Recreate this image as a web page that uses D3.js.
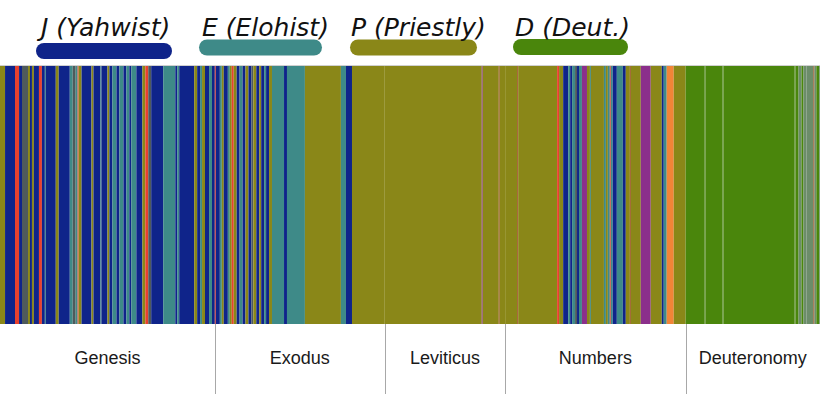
<!DOCTYPE html>
<html><head><meta charset="utf-8">
<script src="https://cdn.jsdelivr.net/npm/d3@7"></script>
<style>html,body{margin:0;padding:0;background:#fff;}svg{display:block;}</style>
</head><body>
<svg id="chart" width="820" height="394"></svg>
<script>
// ---- DATA ----
const books = ["Genesis", "Exodus", "Leviticus", "Numbers", "Deuteronomy"];
const bookVerses = [1533, 1213, 859, 1288, 959];

const sourceCodes = ["J", "E", "P", "D", "R", "O", "X", "G", "B", "K", "L"];
const sourceColors = ["#0f248a", "#3e8a88", "#8a8718", "#4a860c", "#e8412e", "#f28437", "#8b2f8b", "#4e5a5c", "#9a4a1a", "#6c8c6a", "#5c9030"];

const legendLabels = ["J (Yahwist)", "E (Elohist)", "P (Priestly)", "D (Deut.)"];
const legendSources = ["J", "E", "P", "D"];

// segments per book: [source, verses]
const genesisSegs = [["P",36],["J",71],["R",29],["J",21],["G",43],["P",14],["J",14],["P",14],["J",36],["R",21],["J",21],["E",7],["J",71],["P",21],["J",79],["E",21],["G",21],["E",14],["R",7],["P",21],["J",71],["P",14],["J",50],["E",7],["J",43],["P",14],["J",21],["E",29],["J",21],["E",29],["J",21],["E",21],["J",14],["E",36],["J",43],["P",21],["R",21],["G",21],["J",86],["E",86],["J",14],["E",14],["J",107],["P",21],["J",21],["E",14],["P",21],["J",29],["E",21],["J",20]];
const exodusSegs = [["R",7],["J",29],["E",14],["P",14],["J",29],["E",14],["P",14],["R",14],["P",21],["J",21],["E",21],["J",21],["P",21],["J",21],["G",14],["P",21],["J",21],["P",14],["J",21],["E",14],["J",21],["P",21],["E",86],["J",21],["E",128],["P",257],["E",36],["J",43],["P",234]];
const leviticusSegs = [["P",692],["X",7],["P",114],["B",7],["P",39]];
const numbersSegs = [["P",86],["B",7],["P",278],["R",14],["P",29],["J",36],["E",14],["J",14],["E",21],["G",14],["J",14],["E",21],["X",36],["P",21],["E",7],["P",93],["E",14],["P",14],["E",14],["R",7],["E",14],["J",29],["E",43],["J",21],["P",29],["B",7],["P",71],["X",71],["P",79],["J",14],["E",21],["O",50],["P",85]];
const deuteronomySegs = [["D",136],["L",7],["D",121],["L",7],["D",507],["L",7],["D",21],["K",21],["D",14],["K",21],["K",50],["B",7],["K",14],["D",21],["K",5]];

const bookSegs = [genesisSegs, exodusSegs, leviticusSegs, numbersSegs, deuteronomySegs];

// ---- LAYOUT ----
const W = 820, H = 394;
const stripTop = 65, stripBottom = 324;
const svg = d3.select("#chart");

const color = d3.scaleOrdinal().domain(sourceCodes).range(sourceColors);
const total = d3.sum(bookVerses);
const x = d3.scaleLinear().domain([0, total]).range([0, W]);

const bookStart = [];
let acc = 0;
bookVerses.forEach(v => { bookStart.push(acc); acc += v; });
const segs = [];
bookSegs.forEach((list, bi) => {
  let s = bookStart[bi];
  const end = bookStart[bi] + bookVerses[bi];
  list.forEach((d, i) => {
    const e = (i === list.length - 1) ? end : Math.min(end, s + d[1]);
    segs.push({src: d[0], start: s, end: e});
    s = e;
  });
});

svg.append("g").selectAll("rect").data(segs).join("rect")
  .attr("x", d => x(d.start))
  .attr("y", stripTop)
  .attr("width", d => Math.max(0, x(d.end) - x(d.start)))
  .attr("height", stripBottom - stripTop)
  .attr("fill", d => color(d.src));

svg.append("line").attr("x1", 0).attr("x2", W).attr("y1", stripTop + 0.5).attr("y2", stripTop + 0.5)
  .attr("stroke", "#d0d0d0").attr("stroke-width", 1);

const bookEnds = bookStart.slice(1);
svg.append("g").selectAll("line").data(bookEnds).join("line")
  .attr("x1", d => Math.round(x(d)) + 0.5).attr("x2", d => Math.round(x(d)) + 0.5)
  .attr("y1", stripBottom).attr("y2", H)
  .attr("stroke", "#a8a8a8").attr("stroke-width", 1);

svg.append("g").selectAll("text").data(books).join("text")
  .attr("x", (d, i) => x(bookStart[i] + bookVerses[i] / 2))
  .attr("y", 364)
  .attr("text-anchor", "middle")
  .attr("font-family", "'Liberation Sans', Arial, sans-serif")
  .attr("font-size", 18)
  .attr("fill", "#1a1a1a")
  .text(d => d);

const legendTextX = [41, 202, 351, 515];
const legendLine = [[44, 164, 51], [207, 314, 47.5], [358, 469, 47.5], [521, 620, 47]];
const lg = svg.append("g");
legendSources.forEach((s, i) => {
  lg.append("line")
    .attr("x1", legendLine[i][0]).attr("x2", legendLine[i][1])
    .attr("y1", legendLine[i][2]).attr("y2", legendLine[i][2])
    .attr("stroke", color(s)).attr("stroke-width", 16).attr("stroke-linecap", "round");
  lg.append("text")
    .attr("x", legendTextX[i]).attr("y", 36)
    .attr("font-family", "'DejaVu Sans', sans-serif")
    .attr("font-style", "italic")
    .attr("font-size", 25)
    .attr("fill", "#111")
    .text(legendLabels[i]);
});
</script>
</body></html>
